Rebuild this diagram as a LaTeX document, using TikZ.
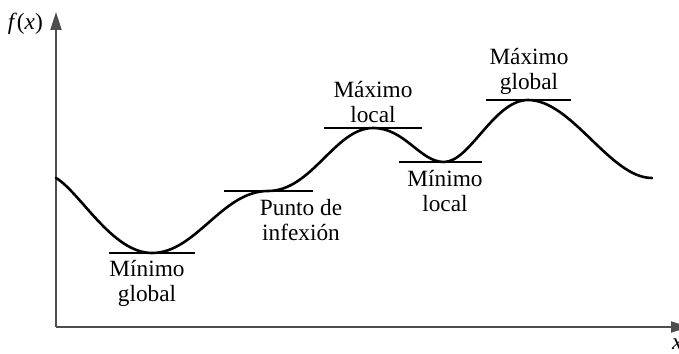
\documentclass[tikz,border=0pt]{standalone}
\usepackage{fontspec}
\setmainfont{Liberation Serif}
\usetikzlibrary{arrows.meta}

\definecolor{ejegris}{HTML}{4D4D4D}

\tikzset{
  eje/.style={draw=ejegris, line width=2pt, -{Triangle[length=18pt,width=11pt]}},
  tangente/.style={line width=2.6pt},
  curva/.style={line width=2.6pt, line cap=round},
  etiqueta/.style={align=center, inner sep=0pt}
}

\begin{document}
\begin{tikzpicture}[x=1pt, y=-1pt, font=\fontsize{23.3}{25.5}\selectfont]
  \useasboundingbox (0,0) rectangle (679,353);
  % ejes
  \coordinate (origen) at (56,327);
  \coordinate (ytop) at (56,12);
  \coordinate (xfin) at (689,327);
  \draw[eje] (origen) -- (ytop);
  \draw[eje] (origen) -- (xfin);
  \node[inner sep=0pt, anchor=base east] (fx) at (43,30) {\textit{f}(\textit{x})};
  \node[inner sep=0pt, anchor=north west] (xlab) at (672,339) {\textit{x}};
  % la funcion, con tangente horizontal en cada punto critico
  \draw[curva] (56,178)
    .. controls (80,192) and (112,253) .. (152,253)
    .. controls (196,253) and (222,191) .. (268,191)
    .. controls (312,191) and (335,128) .. (373,128)
    .. controls (405,128) and (420,162) .. (444,162)
    .. controls (470,162) and (494,100) .. (528,100)
    .. controls (572,100) and (610,178) .. (652,178);
  \foreach \a/\b/\y in {109/195/253, 224/313/191, 324/422/128, 399/482/162, 486/571/100} {
    \draw[tangente] (\a,\y) -- (\b,\y);
  }
  \begin{scope}[every node/.style={etiqueta}]
    \node[anchor=north] (minglobal) at (147,260) {Mínimo\\global};
    \node[anchor=north] (inflexion) at (301,199) {Punto de\\infexión};
    \node[anchor=south] (maxlocal) at (373,123) {Máximo\\local};
    \node[anchor=north] (minlocal) at (445,170) {Mínimo\\local};
    \node[anchor=south] (maxglobal) at (529,95) {Máximo\\global};
  \end{scope}
\end{tikzpicture}
\end{document}
